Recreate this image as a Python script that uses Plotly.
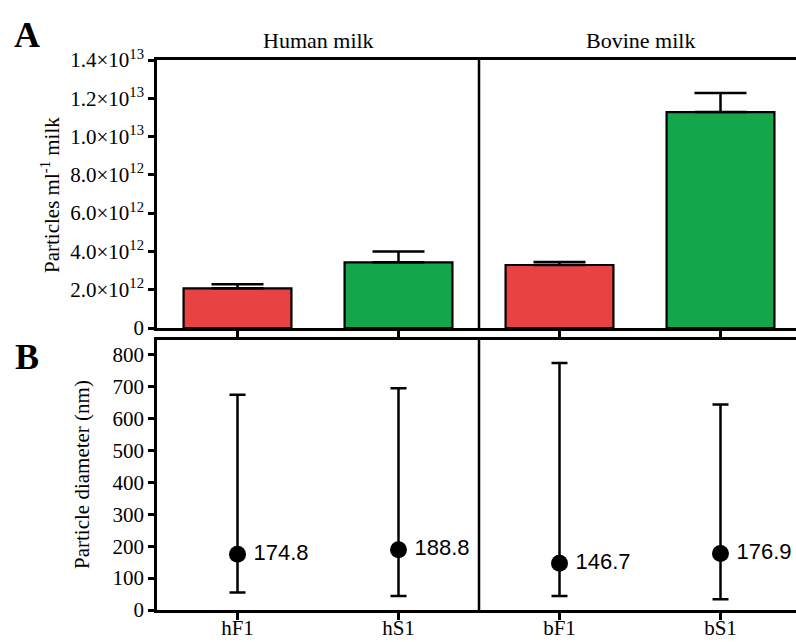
import plotly.graph_objects as go

# ---- data ----
categories = ["hF1", "hS1", "bF1", "bS1"]
group_titles = ["Human milk", "Bovine milk"]
bar_colors = ["#E94242", "#13A64B", "#E94242", "#13A64B"]

particle_mean = [2.07e12, 3.43e12, 3.29e12, 11.28e12]
particle_err = [0.21e12, 0.56e12, 0.16e12, 1.00e12]

diameter_mean = [174.8, 188.8, 146.7, 176.9]
diameter_high = [675, 696, 775, 645]
diameter_low = [55, 44, 44, 34]

a_tickvals = [0, 2e12, 4e12, 6e12, 8e12, 10e12, 12e12, 14e12]
a_ticktext = ["0", "2.0×10<sup>12</sup>", "4.0×10<sup>12</sup>", "6.0×10<sup>12</sup>",
              "8.0×10<sup>12</sup>", "1.0×10<sup>13</sup>", "1.2×10<sup>13</sup>",
              "1.4×10<sup>13</sup>"]
b_tickvals = [0, 100, 200, 300, 400, 500, 600, 700, 800]

# ---- figure ----
W, H = 796, 642
L, R, T, B = 157, 0, 60, 32
plot_h = H - T - B
serif = "Liberation Serif, Times New Roman, serif"
sans = "Liberation Sans, Arial, sans-serif"
FS = 21

xpos = list(range(len(categories)))

fig = go.Figure()
fig.add_trace(go.Bar(
    x=xpos, y=particle_mean, marker=dict(color=bar_colors, line=dict(color="black", width=2.2)),
    width=0.67,
    error_y=dict(type="data", array=particle_err, symmetric=False, arrayminus=[0]*4,
                 color="black", thickness=2.5, width=26),
    xaxis="x", yaxis="y", showlegend=False))

err_plus = [h - m for h, m in zip(diameter_high, diameter_mean)]
err_minus = [m - l for m, l in zip(diameter_mean, diameter_low)]
fig.add_trace(go.Scatter(
    x=xpos, y=diameter_mean, mode="markers+text",
    marker=dict(color="black", size=17),
    text=["\u2009" + f"{v:.1f}" for v in diameter_mean], textposition="middle right",
    textfont=dict(family=sans, size=22, color="black"),
    error_y=dict(type="data", array=err_plus, arrayminus=err_minus, symmetric=False,
                 color="black", thickness=2.5, width=8),
    xaxis="x2", yaxis="y2", showlegend=False, cliponaxis=False))

a_bottom = (H - B - 328) / plot_h
b_top = (H - B - 340) / plot_h
xrange = [-0.5, -0.5 + (W - L) / 161.0]

axis_common = dict(showline=True, linecolor="black", linewidth=2.5, ticks="outside",
                   tickcolor="black", tickwidth=2.5, showgrid=False, zeroline=False,
                   automargin=False)

fig.update_layout(
    width=W, height=H, autosize=False, margin=dict(l=L, r=R, t=T, b=B, autoexpand=False),
    paper_bgcolor="white", plot_bgcolor="white",
    font=dict(family=serif, size=FS, color="black"),
    xaxis=dict(domain=[0, 1], range=xrange, anchor="y", tickvals=xpos, showticklabels=False,
               ticklen=7, mirror=True, **axis_common),
    yaxis=dict(domain=[a_bottom, 1], range=[0, 1.4e13], anchor="x", tickvals=a_tickvals,
               ticktext=a_ticktext, ticklen=6, tickfont=dict(family=serif, size=FS), **axis_common),
    xaxis2=dict(domain=[0, 1], range=xrange, anchor="y2", tickvals=xpos, ticktext=categories,
                ticklen=7, mirror=True, ticklabelstandoff=-10,
                tickfont=dict(family=serif, size=FS), **axis_common),
    yaxis2=dict(domain=[0, b_top], range=[0, 847], anchor="x2", tickvals=b_tickvals,
                ticklen=6, tickfont=dict(family=serif, size=FS), **axis_common),
)

# vertical dividers between groups
for yref in ["y domain", "y2 domain"]:
    xr = "x" if yref.startswith("y ") else "x2"
    fig.add_shape(type="line", xref=xr, yref=yref, x0=1.5, x1=1.5, y0=0, y1=1,
                  line=dict(color="black", width=2.5))

# group titles
for i, t in enumerate(group_titles):
    fig.add_annotation(x=2 * i + 0.5, xref="x", y=1, yref="paper", yshift=20,
                       text=t, showarrow=False, font=dict(family=serif, size=22),
                       xanchor="center", yanchor="middle")

# axis titles
fig.add_annotation(x=(50 - L) / (W - L - R), xref="paper", y=(H - B - 195) / plot_h, yref="paper",
                   text="Particles ml<sup>-1</sup> milk", textangle=-90, showarrow=False,
                   font=dict(family=serif, size=FS), xanchor="center", yanchor="middle")
fig.add_annotation(x=(82 - L) / (W - L - R), xref="paper", y=(H - B - 475) / plot_h, yref="paper",
                   text="Particle diameter (nm)", textangle=-90, showarrow=False,
                   font=dict(family=serif, size=FS), xanchor="center", yanchor="middle")

# panel letters
fig.add_annotation(x=(27 - L) / (W - L - R), xref="paper", y=(H - B - 35) / plot_h, yref="paper",
                   text="<b>A</b>", showarrow=False, font=dict(family=serif, size=36),
                   xanchor="center", yanchor="middle")
fig.add_annotation(x=(27 - L) / (W - L - R), xref="paper", y=(H - B - 357) / plot_h, yref="paper",
                   text="<b>B</b>", showarrow=False, font=dict(family=serif, size=36),
                   xanchor="center", yanchor="middle")

fig.write_html("out.html", config={"displayModeBar": False},
               post_script="document.body.style.margin='0';document.body.style.overflow='hidden';")
